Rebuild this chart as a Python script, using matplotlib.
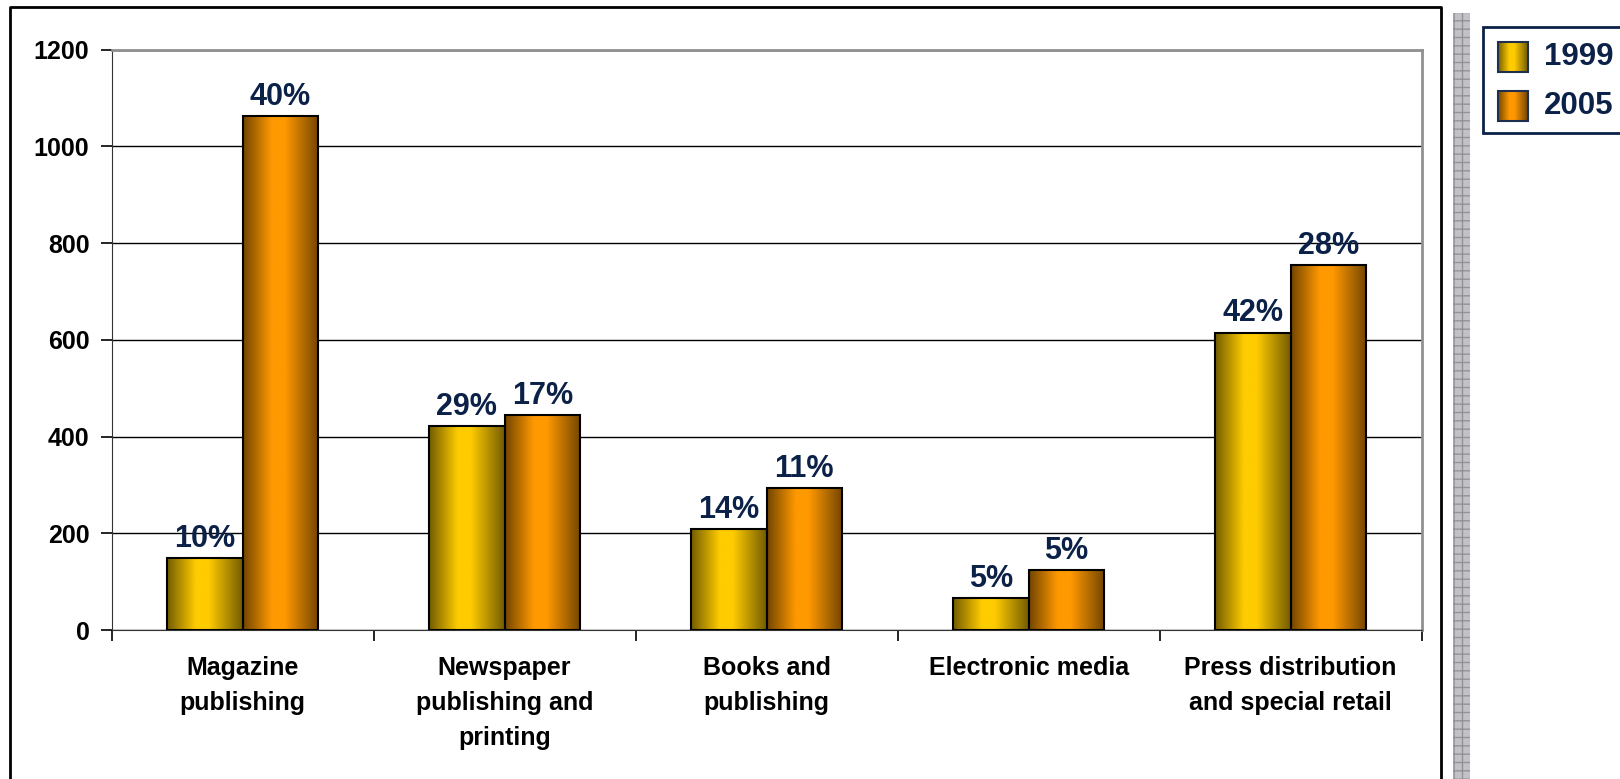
import numpy as np
from matplotlib import pyplot as plt
from matplotlib.patches import Rectangle

plt.rcParams['font.family'] = ['Liberation Sans', 'DejaVu Sans']
plt.rcParams['font.weight'] = 'bold'

categories = ['Magazine\npublishing', 'Newspaper\npublishing and\nprinting',
              'Books and\npublishing', 'Electronic media',
              'Press distribution\nand special retail']
values_1999 = [148, 421, 209, 66, 615]
values_2005 = [1063, 444, 293, 124, 754]
labels_1999 = ['10%', '29%', '14%', '5%', '42%']
labels_2005 = ['40%', '17%', '11%', '5%', '28%']
series_names = ['1999', '2005']
yticks = [0, 200, 400, 600, 800, 1000, 1200]

NAVY = '#0b2148'
BASE_1999 = np.array([1.0, 0.80, 0.0])
BASE_2005 = np.array([1.0, 0.60, 0.0])


def gradient(base, n=200):
    t = np.linspace(0, 1, n)
    f = np.interp(t, [0, 0.38, 0.55, 1], [0.45, 1.0, 1.0, 0.45])
    return (base[None, :] * f[:, None])[None, :, :]


W, H = 1620, 779
fig = plt.figure(figsize=(W / 100, H / 100), dpi=100)

# overlay axes in pixel coordinates for frame, strip and legend
over = fig.add_axes([0, 0, 1, 1])
over.set_xlim(0, W)
over.set_ylim(H, 0)
over.axis('off')
over.plot([10, 10, 1441, 1441], [790, 7, 7, 790], color='black', lw=2, solid_capstyle='butt')
over.add_patch(Rectangle((1453, 13), 17, 780, facecolor='#c2c2c6', edgecolor='#92929a',
                         hatch='++', lw=0))
over.add_patch(Rectangle((1483, 27), 150, 106, facecolor='white', edgecolor=NAVY, lw=2))
for i, (name, base) in enumerate(zip(series_names, [BASE_1999, BASE_2005])):
    y0 = 42 + i * 49
    over.imshow(gradient(base), extent=(1498, 1528, y0 + 30, y0), aspect='auto', zorder=3)
    over.add_patch(Rectangle((1498, y0), 30, 30, facecolor='none', edgecolor='#1f2f4f', lw=1.5, zorder=4))
    over.text(1544, y0 + 15, name, fontsize=22.5, fontweight='bold', color=NAVY, va='center', ha='left')
over.set_xlim(0, W)
over.set_ylim(H, 0)

ax = fig.add_axes([111.6 / W, 1 - 630 / H, 1310 / W, 580.4 / H])
x = np.arange(len(categories))
bw = 0.288
bars1 = ax.bar(x - bw / 2, values_1999, bw, facecolor='none', edgecolor='black', lw=1.5, zorder=4)
bars2 = ax.bar(x + bw / 2, values_2005, bw, facecolor='none', edgecolor='black', lw=1.5, zorder=4)

for bars, base, labels in [(bars1, BASE_1999, labels_1999), (bars2, BASE_2005, labels_2005)]:
    for b, lab in zip(bars, labels):
        x0, w, h = b.get_x(), b.get_width(), b.get_height()
        ax.imshow(gradient(base), extent=(x0, x0 + w, 0, h), aspect='auto', zorder=3)
        ax.annotate(lab, (x0 + w / 2, h), xytext=(0, 3), textcoords='offset points',
                    ha='center', va='bottom', fontsize=22, fontweight='bold', color=NAVY, zorder=5)

ax.set_xlim(-0.5, len(categories) - 0.5)
ax.set_ylim(0, 1200)
ax.set_yticks(yticks)
ax.set_yticklabels([str(v) for v in yticks], fontsize=18, fontweight='bold')
ax.set_xticks(x)
ax.set_xticklabels(categories, fontsize=18, fontweight='bold', linespacing=1.58, va='top')
ax.set_xticks(np.arange(len(categories) + 1) - 0.5, minor=True)
ax.tick_params(axis='x', which='major', length=0, pad=19)
ax.tick_params(axis='x', which='minor', length=8, width=1.2, color='black', direction='out')
ax.tick_params(axis='y', length=8, width=1.2, direction='out', pad=8)
ax.grid(axis='y', color='black', lw=1, zorder=1)
ax.set_axisbelow(True)
ax.spines['top'].set_color('#909090')
ax.spines['right'].set_color('#909090')
ax.spines['top'].set_linewidth(2)
ax.spines['right'].set_linewidth(2)
ax.spines['left'].set_color('#333333')
ax.spines['bottom'].set_color('#333333')

fig.savefig('out.png', dpi=100)
